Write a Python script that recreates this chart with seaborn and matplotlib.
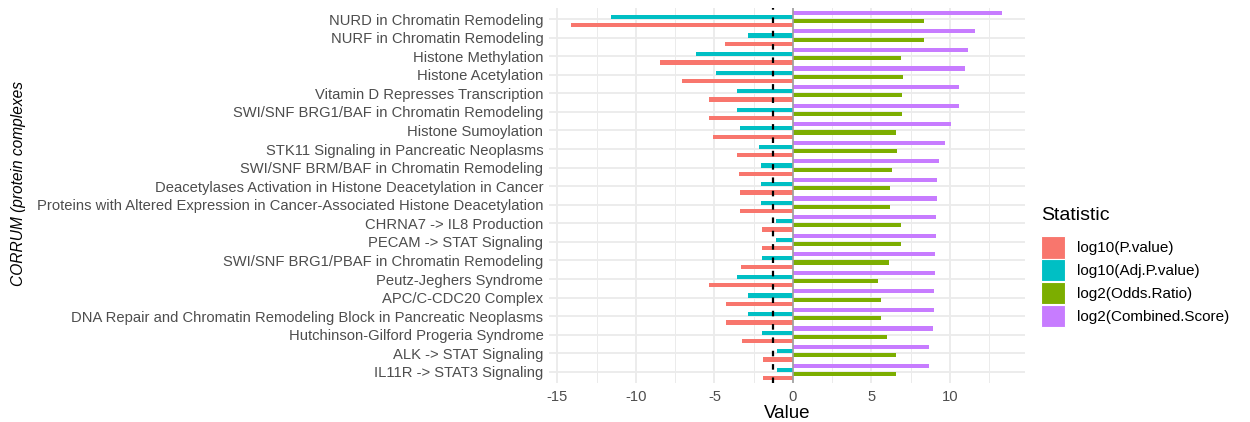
import matplotlib
matplotlib.use("Agg")
import matplotlib.pyplot as plt
import matplotlib.patches as mpatches
import seaborn as sns
import pandas as pd
import numpy as np

categories = [
    "NURD in Chromatin Remodeling",
    "NURF in Chromatin Remodeling",
    "Histone Methylation",
    "Histone Acetylation",
    "Vitamin D Represses Transcription",
    "SWI/SNF BRG1/BAF in Chromatin Remodeling",
    "Histone Sumoylation",
    "STK11 Signaling in Pancreatic Neoplasms",
    "SWI/SNF BRM/BAF in Chromatin Remodeling",
    "Deacetylases Activation in Histone Deacetylation in Cancer",
    "Proteins with Altered Expression in Cancer-Associated Histone Deacetylation",
    "CHRNA7 -> IL8 Production",
    "PECAM -> STAT Signaling",
    "SWI/SNF BRG1/PBAF in Chromatin Remodeling",
    "Peutz-Jeghers Syndrome",
    "APC/C-CDC20 Complex",
    "DNA Repair and Chromatin Remodeling Block in Pancreatic Neoplasms",
    "Hutchinson-Gilford Progeria Syndrome",
    "ALK -> STAT Signaling",
    "IL11R -> STAT3 Signaling",
]

log10_p = [-14.16, -4.33, -8.47, -7.05, -5.33, -5.33, -5.07, -3.57, -3.42, -3.35,
           -3.35, -2.00, -2.00, -3.33, -5.33, -4.27, -4.27, -3.27, -1.93, -1.93]
log10_adj_p = [-11.60, -2.89, -6.18, -4.90, -3.57, -3.57, -3.35, -2.19, -2.06, -2.06,
               -2.06, -1.08, -1.08, -2.00, -3.57, -2.89, -2.89, -2.00, -1.04, -1.04]
log2_odds = [8.34, 8.34, 6.86, 6.98, 6.95, 6.95, 6.56, 6.60, 6.33, 6.20,
             6.20, 6.90, 6.90, 6.09, 5.39, 5.63, 5.63, 5.97, 6.54, 6.54]
log2_combined = [13.33, 11.60, 11.13, 10.98, 10.55, 10.55, 10.04, 9.66, 9.32, 9.19,
                 9.19, 9.09, 9.09, 9.04, 9.04, 8.96, 8.96, 8.90, 8.68, 8.68]

stat_names = ["log10(P.value)", "log10(Adj.P.value)", "log2(Odds.Ratio)", "log2(Combined.Score)"]
stat_colors = ["#F8766D", "#00BFC4", "#7CAE00", "#C77CFF"]
threshold = np.log10(0.05)

series = {
    stat_names[0]: log10_p,
    stat_names[1]: log10_adj_p,
    stat_names[2]: log2_odds,
    stat_names[3]: log2_combined,
}
rows = []
for name, vals in series.items():
    for c, v in zip(categories, vals):
        rows.append({"Term": c, "Statistic": name, "Value": v})
df = pd.DataFrame(rows)

plt.rcParams["font.family"] = ["Liberation Sans", "DejaVu Sans"]
plt.rcParams["axes.unicode_minus"] = False

fig = plt.figure(figsize=(12.5, 4.22), dpi=100)
ax = fig.add_axes([549 / 1250, 1 - 383 / 422, (1025 - 549) / 1250, (383 - 7.9) / 422])

hue_order = [stat_names[3], stat_names[1], stat_names[2], stat_names[0]]
palette = dict(zip(stat_names, stat_colors))

sns.barplot(data=df, y="Term", x="Value", hue="Statistic", hue_order=hue_order,
            order=categories, palette=palette, width=0.9, gap=0, dodge=True,
            saturation=1, legend=False, ax=ax, zorder=3, linewidth=0)

ax.set_xlim(-15.54, 14.78)
ax.set_ylim(len(categories) - 0.4, -0.6)
ax.set_facecolor("white")
for s in ax.spines.values():
    s.set_visible(False)

ax.set_xticks([-15, -10, -5, 0, 5, 10])
ax.set_xticks([-12.5, -7.5, -2.5, 2.5, 7.5, 12.5], minor=True)
ax.grid(True, which="major", axis="both", color="#EBEBEB", linewidth=1.3, zorder=0)
ax.grid(True, which="minor", axis="x", color="#EBEBEB", linewidth=0.7, zorder=0)
ax.set_axisbelow(True)
ax.tick_params(axis="both", which="both", length=0, labelsize=10.6, colors="#4D4D4D")
ax.tick_params(axis="x", pad=5)
ax.tick_params(axis="y", pad=4)

ax.axvline(0, color="#A0A0A0", linewidth=1.2, zorder=4)
ax.axvline(threshold, color="black", linewidth=1.6, linestyle=(0, (2.5, 3.5)), zorder=5)

ax.set_xlabel("Value", fontsize=13.5, color="black", labelpad=1)
ax.set_ylabel("")
fig.text(0.0145, 1 - 183 / 422, "CORRUM (protein complexes", rotation=90,
         fontsize=11.2, style="italic", ha="center", va="center", color="black")

handles = [mpatches.Patch(facecolor=c, edgecolor="white", linewidth=0.8, label=n)
           for n, c in zip(stat_names, stat_colors)]
leg = fig.legend(handles=handles, title="Statistic", loc="upper left",
                 bbox_to_anchor=(1041 / 1250, 1 - 207 / 422), frameon=False,
                 fontsize=11, title_fontsize=14, handlelength=1.55, handleheight=1.85,
                 handletextpad=0.8, labelspacing=0.05, borderaxespad=0, borderpad=0)
leg._legend_box.align = "left"
leg._legend_box.sep = 9

fig.savefig("out.png", dpi=100, facecolor="white")
